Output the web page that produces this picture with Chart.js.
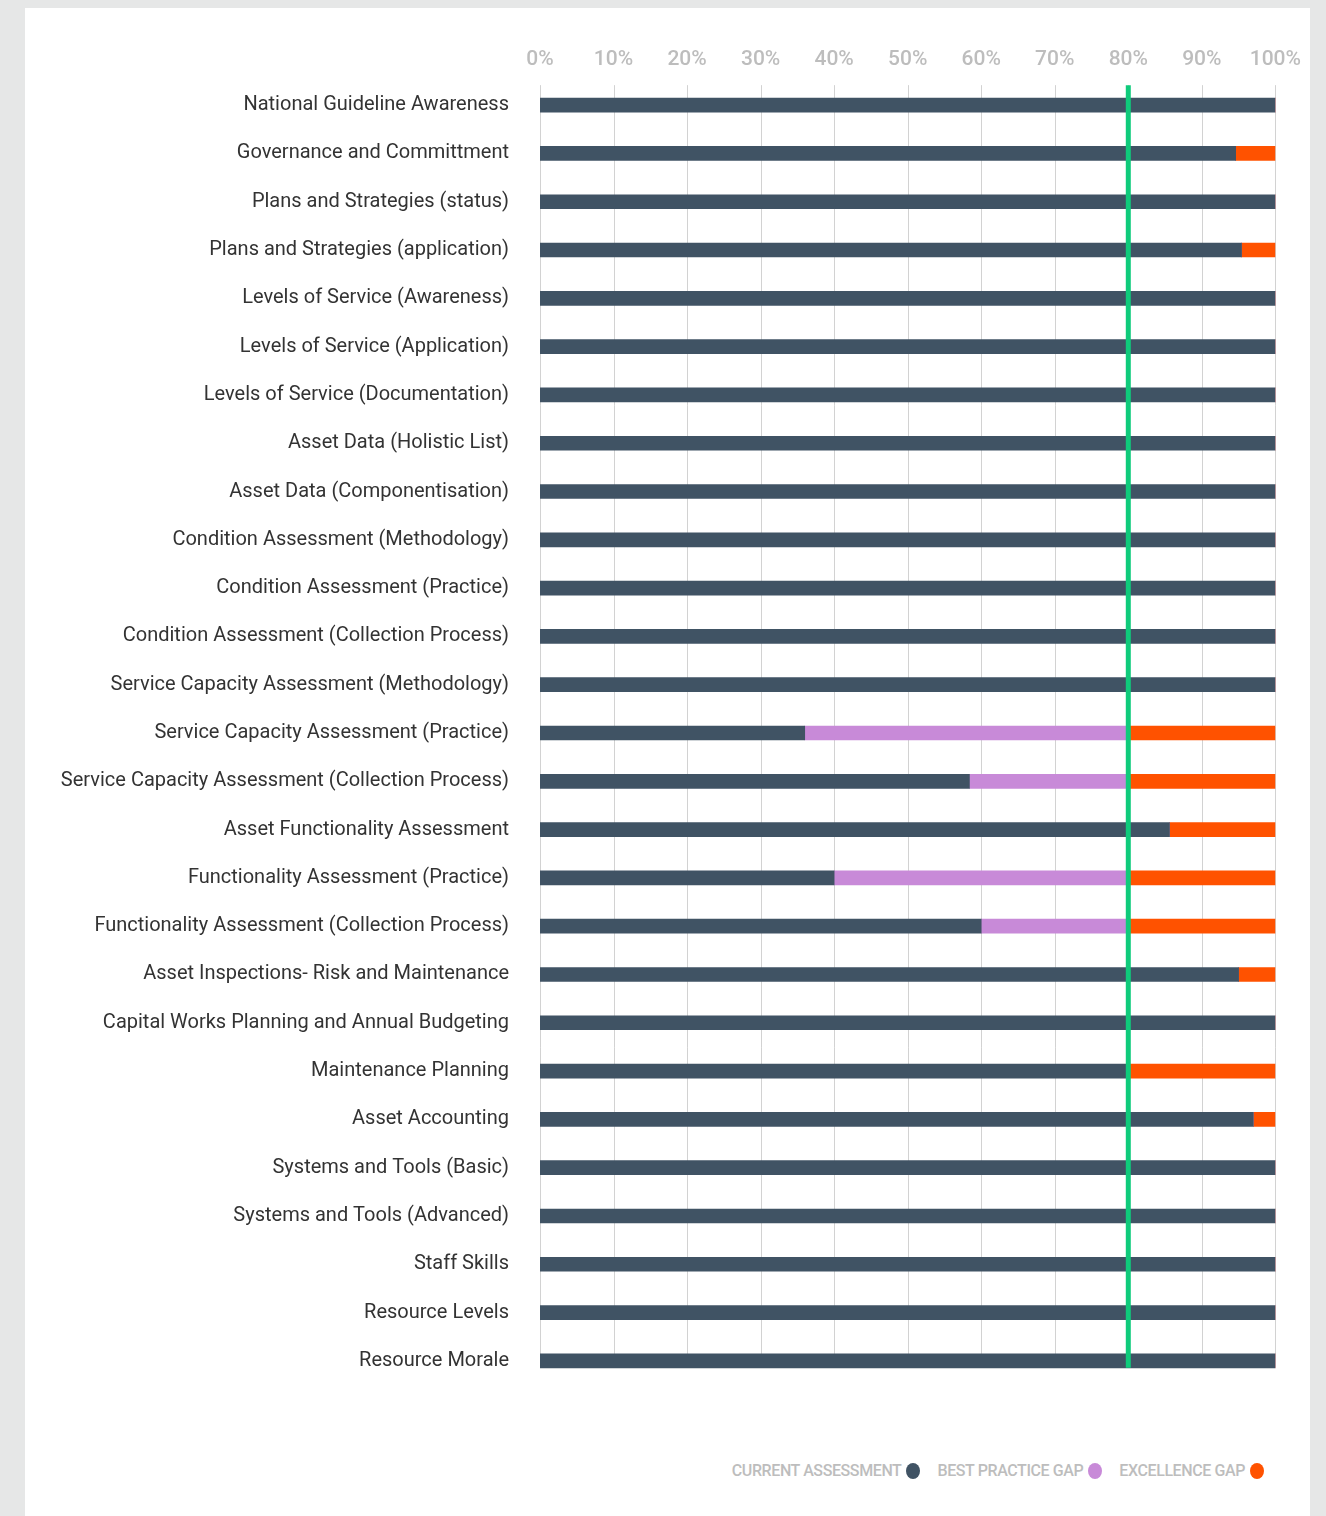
<!DOCTYPE html>
<html>
<head>
<meta charset="utf-8">
<script src="https://cdn.jsdelivr.net/npm/chart.js@4"></script>
<style>
	body { margin: 0; background: #e6e7e7; }
	#card { position: absolute; left: 25px; top: 8px; width: 1285px; height: 1520px; background: #fff; }
	#wrap { position: absolute; left: 0; top: 0; width: 1285px; height: 1420px; }
	#legend { position: absolute; right: 46px; top: 1453px; font-family: Roboto, sans-serif; font-size: 16px; font-weight: 500;
		color: #bdbdbd; letter-spacing: -0.4px; display: flex; }
	#legend span.item { display: flex; align-items: center; margin-left: 17px; }
	#legend span.dot { display: inline-block; width: 14px; height: 16px; border-radius: 50%; margin-left: 5px; }
</style>
</head>
<body>
<div id="card">
	<div id="wrap"><canvas id="barCanvas"></canvas></div>
	<div id="legend"></div>
</div>
<script>
// categories
var categories = [
	"National Guideline Awareness", "Governance and Committment", "Plans and Strategies (status)",
	"Plans and Strategies (application)", "Levels of Service (Awareness)", "Levels of Service (Application)",
	"Levels of Service (Documentation)", "Asset Data (Holistic List)", "Asset Data (Componentisation)",
	"Condition Assessment (Methodology)", "Condition Assessment (Practice)", "Condition Assessment (Collection Process)",
	"Service Capacity Assessment (Methodology)", "Service Capacity Assessment (Practice)",
	"Service Capacity Assessment (Collection Process)", "Asset Functionality Assessment",
	"Functionality Assessment (Practice)", "Functionality Assessment (Collection Process)",
	"Asset Inspections- Risk and Maintenance", "Capital Works Planning and Annual Budgeting",
	"Maintenance Planning", "Asset Accounting", "Systems and Tools (Basic)", "Systems and Tools (Advanced)",
	"Staff Skills", "Resource Levels", "Resource Morale"
];

// series values (%)
var currentAssessment = [100, 94.6, 100, 95.4, 100, 100, 100, 100, 100, 100, 100, 100, 100,
	36, 58.4, 85.6, 40, 60, 95, 100, 80, 97, 100, 100, 100, 100, 100];
var bestPracticeGap = [0, 0, 0, 0, 0, 0, 0, 0, 0, 0, 0, 0, 0,
	44, 21.6, 0, 40, 20, 0, 0, 0, 0, 0, 0, 0, 0, 0];
var excellenceGap = [0, 5.4, 0, 4.6, 0, 0, 0, 0, 0, 0, 0, 0, 0,
	20, 20, 14.4, 20, 20, 5, 0, 20, 3, 0, 0, 0, 0, 0];

var seriesNames = ["CURRENT ASSESSMENT", "BEST PRACTICE GAP", "EXCELLENCE GAP"];
var seriesColors = ["#405364", "#c88ad8", "#ff5200"];

var bestPracticeLine = 80;	// 목표선

var xTicks = [0, 10, 20, 30, 40, 50, 60, 70, 80, 90, 100];

// 그리드선과 목표선 (막대 범위만큼만)
var linesPlugin = {
	id: 'linesPlugin',
	beforeDatasetsDraw: function(chart) {
		var c = chart.ctx, x = chart.scales.x, y = chart.scales.y;
		var top = y.getPixelForValue(0) - 20;
		var bottom = y.getPixelForValue(categories.length - 1) + 7;
		c.save();
		c.strokeStyle = "#d2d2d2";
		c.lineWidth = 1;
		xTicks.forEach(function(t) {
			var px = Math.round(x.getPixelForValue(t)) + 0.5;
			c.beginPath();
			c.moveTo(px, top);
			c.lineTo(px, bottom);
			c.stroke();
		});
		c.restore();
	},
	afterDatasetsDraw: function(chart) {
		var c = chart.ctx, x = chart.scales.x, y = chart.scales.y;
		var top = y.getPixelForValue(0) - 20;
		var bottom = y.getPixelForValue(categories.length - 1) + 7;
		var px = x.getPixelForValue(bestPracticeLine);
		c.save();
		c.strokeStyle = "#0fcb7b";
		c.lineWidth = 5;
		c.beginPath();
		c.moveTo(px, top);
		c.lineTo(px, bottom);
		c.stroke();
		c.restore();
	}
};

var ctx = document.getElementById("barCanvas").getContext("2d");

Chart.defaults.font.family = "Roboto, sans-serif";

new Chart(ctx, {
	type: 'bar',
	data: {
		labels: categories,
		datasets: [
			{ label: seriesNames[0], data: currentAssessment, backgroundColor: seriesColors[0] },
			{ label: seriesNames[1], data: bestPracticeGap, backgroundColor: seriesColors[1] },
			{ label: seriesNames[2], data: excellenceGap, backgroundColor: seriesColors[2] }
		]
	},
	options: {
		indexAxis: 'y',
		responsive: true,
		maintainAspectRatio: false,
		animation: false,
		barThickness: 14,
		layout: { padding: { left: 0, right: 30, top: 0, bottom: 33 } },
		plugins: {
			legend: { display: false },
			tooltip: { enabled: false }
		},
		scales: {
			x: {
				position: 'top',
				stacked: true,
				min: 0,
				max: 100,
				afterFit: function(scale) { scale.height = 73; },
				afterBuildTicks: function(scale) {
					scale.ticks = xTicks.map(function(v) { return { value: v }; });
				},
				ticks: {
					padding: 9,
					color: "#bdbdbd",
					font: { size: 21, weight: 500 },
					maxRotation: 0,
					callback: function(v) { return v + "%"; }
				},
				grid: { display: false, drawTicks: false },
				border: { display: false }
			},
			y: {
				stacked: true,
				afterFit: function(scale) { scale.width = 515; },
				ticks: {
					padding: 31,
					color: "#333333",
					font: { size: 20 },
					autoSkip: false
				},
				grid: { display: false, drawTicks: false },
				border: { display: false }
			}
		}
	},
	plugins: [linesPlugin]
});

// 범례: 글자 뒤에 동그라미
var legendEl = document.getElementById("legend");
seriesNames.forEach(function(name, i) {
	var item = document.createElement("span");
	item.className = "item";
	item.appendChild(document.createTextNode(name));
	var dot = document.createElement("span");
	dot.className = "dot";
	dot.style.background = seriesColors[i];
	item.appendChild(dot);
	legendEl.appendChild(item);
});
</script>
</body>
</html>
